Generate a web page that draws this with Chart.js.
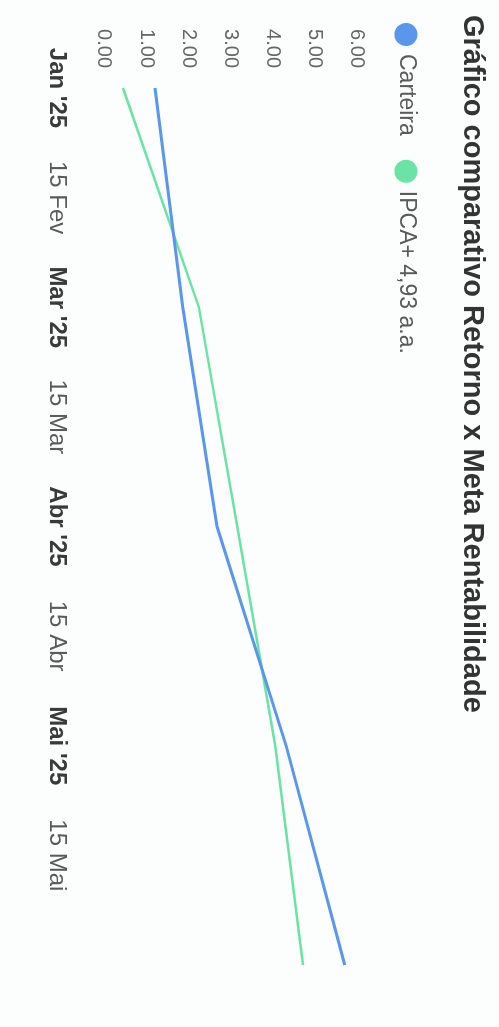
<!DOCTYPE html>
<html>
<head>
<meta charset="utf-8">
<script src="https://cdn.jsdelivr.net/npm/chart.js@4.4.1/dist/chart.umd.min.js"></script>
<style>
  html, body { margin: 0; padding: 0; background: #fcfdfd; overflow: hidden; }
  body { width: 499px; height: 1027px; position: relative; }
  #wrap {
    position: absolute; left: 0; top: 0;
    width: 1027px; height: 499px;
    transform-origin: 0 0;
    transform: translateX(499px) rotate(90deg);
    background: #fcfdfd;
  }
</style>
</head>
<body>
<div id="wrap"><canvas id="c" width="1027" height="499"></canvas></div>
<script>
// ---- data ----
const titleText = "Gráfico comparativo Retorno x Meta Rentabilidade";
const xLabels = ["Jan '25", "15 Fev", "Mar '25", "15 Mar", "Abr '25", "15 Abr", "Mai '25", "15 Mai", ""];
const seriesNames = ["Carteira", "IPCA+ 4,93 a.a."];
const carteira = [1.21, null, 1.87, null, 2.68, null, 4.32, null, 5.71];
const ipca     = [0.45, null, 2.25, null, 3.16, null, 4.06, null, 4.72];
const yTicks = [0, 1, 2, 3, 4, 5, 6];

const FONT = '"Liberation Sans", Arial, Helvetica, sans-serif';
const colors = ['#5A97EC', '#6BE3A4'];

const legendPlugin = {
  id: 'sideLegend',
  afterDraw(chart) {
    const ctx = chart.ctx;
    ctx.save();
    ctx.font = '23px ' + FONT;
    ctx.textBaseline = 'middle';
    ctx.textAlign = 'left';
    let x = 23;
    const y = 93;
    chart.data.datasets.forEach(ds => {
      ctx.fillStyle = ds.borderColor;
      ctx.beginPath();
      ctx.arc(x + 11.5, y, 11.5, 0, Math.PI * 2);
      ctx.fill();
      ctx.fillStyle = '#5a5a5a';
      ctx.fillText(ds.label, x + 31, y);
      x += 31 + ctx.measureText(ds.label).width + 24;
    });
    ctx.restore();
  }
};

new Chart(document.getElementById('c'), {
  type: 'line',
  data: {
    labels: xLabels,
    datasets: [
      { label: seriesNames[0], data: carteira, borderColor: colors[0], backgroundColor: colors[0],
        borderWidth: 3, pointRadius: 0, tension: 0, spanGaps: true },
      { label: seriesNames[1], data: ipca, borderColor: colors[1], backgroundColor: colors[1],
        borderWidth: 2.5, pointRadius: 0, tension: 0, spanGaps: true }
    ]
  },
  options: {
    responsive: false,
    animation: false,
    devicePixelRatio: 1,
    layout: { padding: { left: 15, right: 62, top: 0, bottom: 0 } },
    plugins: {
      legend: { display: false },
      tooltip: { enabled: false },
      title: {
        display: true, text: titleText, align: 'start', color: '#333333',
        font: { family: FONT, size: 29, weight: 'bold' },
        padding: { top: 10, bottom: 97.2 }
      }
    },
    scales: {
      x: {
        type: 'category',
        offset: false,
        grid: { display: false },
        border: { display: false },
        ticks: {
          autoSkip: false, maxRotation: 0, minRotation: 0, padding: 25,
          font: (c) => {
            const l = xLabels[c.index] || '';
            return { family: FONT, size: 24, weight: l.includes("'") ? 'bold' : 'normal' };
          },
          color: (c) => {
            const l = xLabels[c.index] || '';
            return l.includes("'") ? '#3a3a3a' : '#5a5a5a';
          }
        },
        afterFit(scale) { scale.height = 104; }
      },
      y: {
        min: yTicks[0], max: yTicks[yTicks.length - 1],
        grid: { display: false },
        border: { display: false },
        afterBuildTicks(scale) { scale.ticks = yTicks.map(v => ({ value: v })); },
        ticks: {
          padding: 12,
          color: '#666666',
          font: { family: FONT, size: 20 },
          callback: (v) => Number(v).toFixed(2)
        },
        afterFit(scale) { scale.width = 73; }
      }
    }
  },
  plugins: [legendPlugin]
});
</script>
</body>
</html>
